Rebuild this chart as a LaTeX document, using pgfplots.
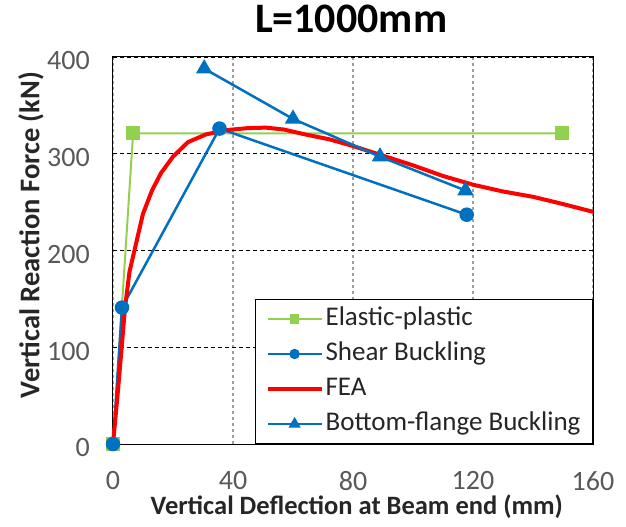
\documentclass[border=0pt]{standalone}
\usepackage{fontspec}
\setmainfont{Carlito}
\usepackage{pgfplots}
\pgfplotsset{compat=1.18}
\definecolor{egreen}{HTML}{92D050}
\definecolor{eblue}{HTML}{0070C0}
\definecolor{ered}{HTML}{FF0000}
\definecolor{tickgray}{HTML}{595959}
\definecolor{txt}{HTML}{262626}
\begin{document}
\begin{tikzpicture}[x=1pt,y=1pt]
\useasboundingbox (-113,-83) rectangle (513,444);
\begin{axis}[
  at={(0,0)}, anchor=south west,
  width=480pt, height=387pt, scale only axis,
  xmin=0, xmax=160, ymin=0, ymax=400,
  xtick={0,40,80,120,160}, ytick={0,100,200,300,400},
  major tick length=0pt,
  /pgf/number format/assume math mode=true,
  tick label style={font=\fontsize{28}{30}\selectfont, text=tickgray, inner sep=0pt},
  xticklabel style={anchor=north, yshift=-27pt},
  yticklabel style={anchor=east, xshift=-23pt, yshift=-4pt},
  axis line style={black, line width=1pt},
  xmajorgrids, ymajorgrids,
  x grid style={gray!75, line width=2.2pt, dash pattern=on 3pt off 3pt},
  y grid style={black, line width=0.9pt, dash pattern=on 4pt off 3pt},
  title={L=1000mm},
  title style={font=\fontsize{42}{48}\selectfont\bfseries, text=black, at={(axis description cs:0.496,1.049)}, anchor=base, inner sep=0pt},
  xlabel={Vertical Deflection at Beam end (mm)},
  ylabel={Vertical Reaction Force (kN)},
  xlabel style={font=\fontsize{26.5}{30}\selectfont\bfseries, text=txt, at={(axis description cs:0.508,-0.162)}, anchor=center, inner sep=0pt},
  ylabel style={font=\fontsize{28.5}{30}\selectfont\bfseries, text=txt, at={(axis description cs:-0.171,0.54)}, anchor=center, inner sep=0pt},
  legend style={at={(axis cs:160,0)}, anchor=south east, draw=black, line width=1pt, fill=white,
    font=\fontsize{27}{30}\selectfont, text=txt, inner xsep=10pt, inner ysep=5pt,
    row sep=6pt, nodes={inner sep=2pt, text height=19pt, text depth=6pt}},
  legend cell align=left,
  legend image code/.code={\draw[mark repeat=2,mark phase=2,every mark/.append style={scale=0.65},#1] plot coordinates {(0pt,0pt) (27pt,0pt) (54pt,0pt)};},
  clip=false,
]
\addplot[egreen, line width=2pt, mark=square*, mark size=6pt, mark options={fill=egreen, draw=egreen}]
  coordinates {(0,0) (6.7,321) (149.7,321)};
\addlegendentry{Elastic-plastic}
\addplot[eblue, line width=2.5pt, mark=*, mark size=6pt, mark options={fill=eblue, draw=eblue}]
  coordinates {(0,0) (3,141) (35.5,326) (117.9,237)};
\addlegendentry{Shear Buckling}
\addplot[ered, line width=4pt, line join=round]
  coordinates {(0,0) (1.5,50) (2.9,100) (4,141) (5.5,178) (7.9,210) (10,238) (13,262) (16,280) (20,297) (25,312) (31,320) (38,324.5) (45,326.5) (51,327) (57,325) (64,320) (72,315) (80,308) (89,299) (100,288) (110,277) (120,268) (130,261) (140,255.5) (150,248) (160,240)};
\addlegendentry{FEA}
\addplot[eblue, line width=2.5pt, mark=triangle*, mark size=7pt, mark options={fill=eblue, draw=eblue}]
  coordinates {(30.4,388) (60,336) (89,297) (117.5,262)};
\addlegendentry{Bottom-flange Buckling}
\end{axis}
\end{tikzpicture}
\end{document}
